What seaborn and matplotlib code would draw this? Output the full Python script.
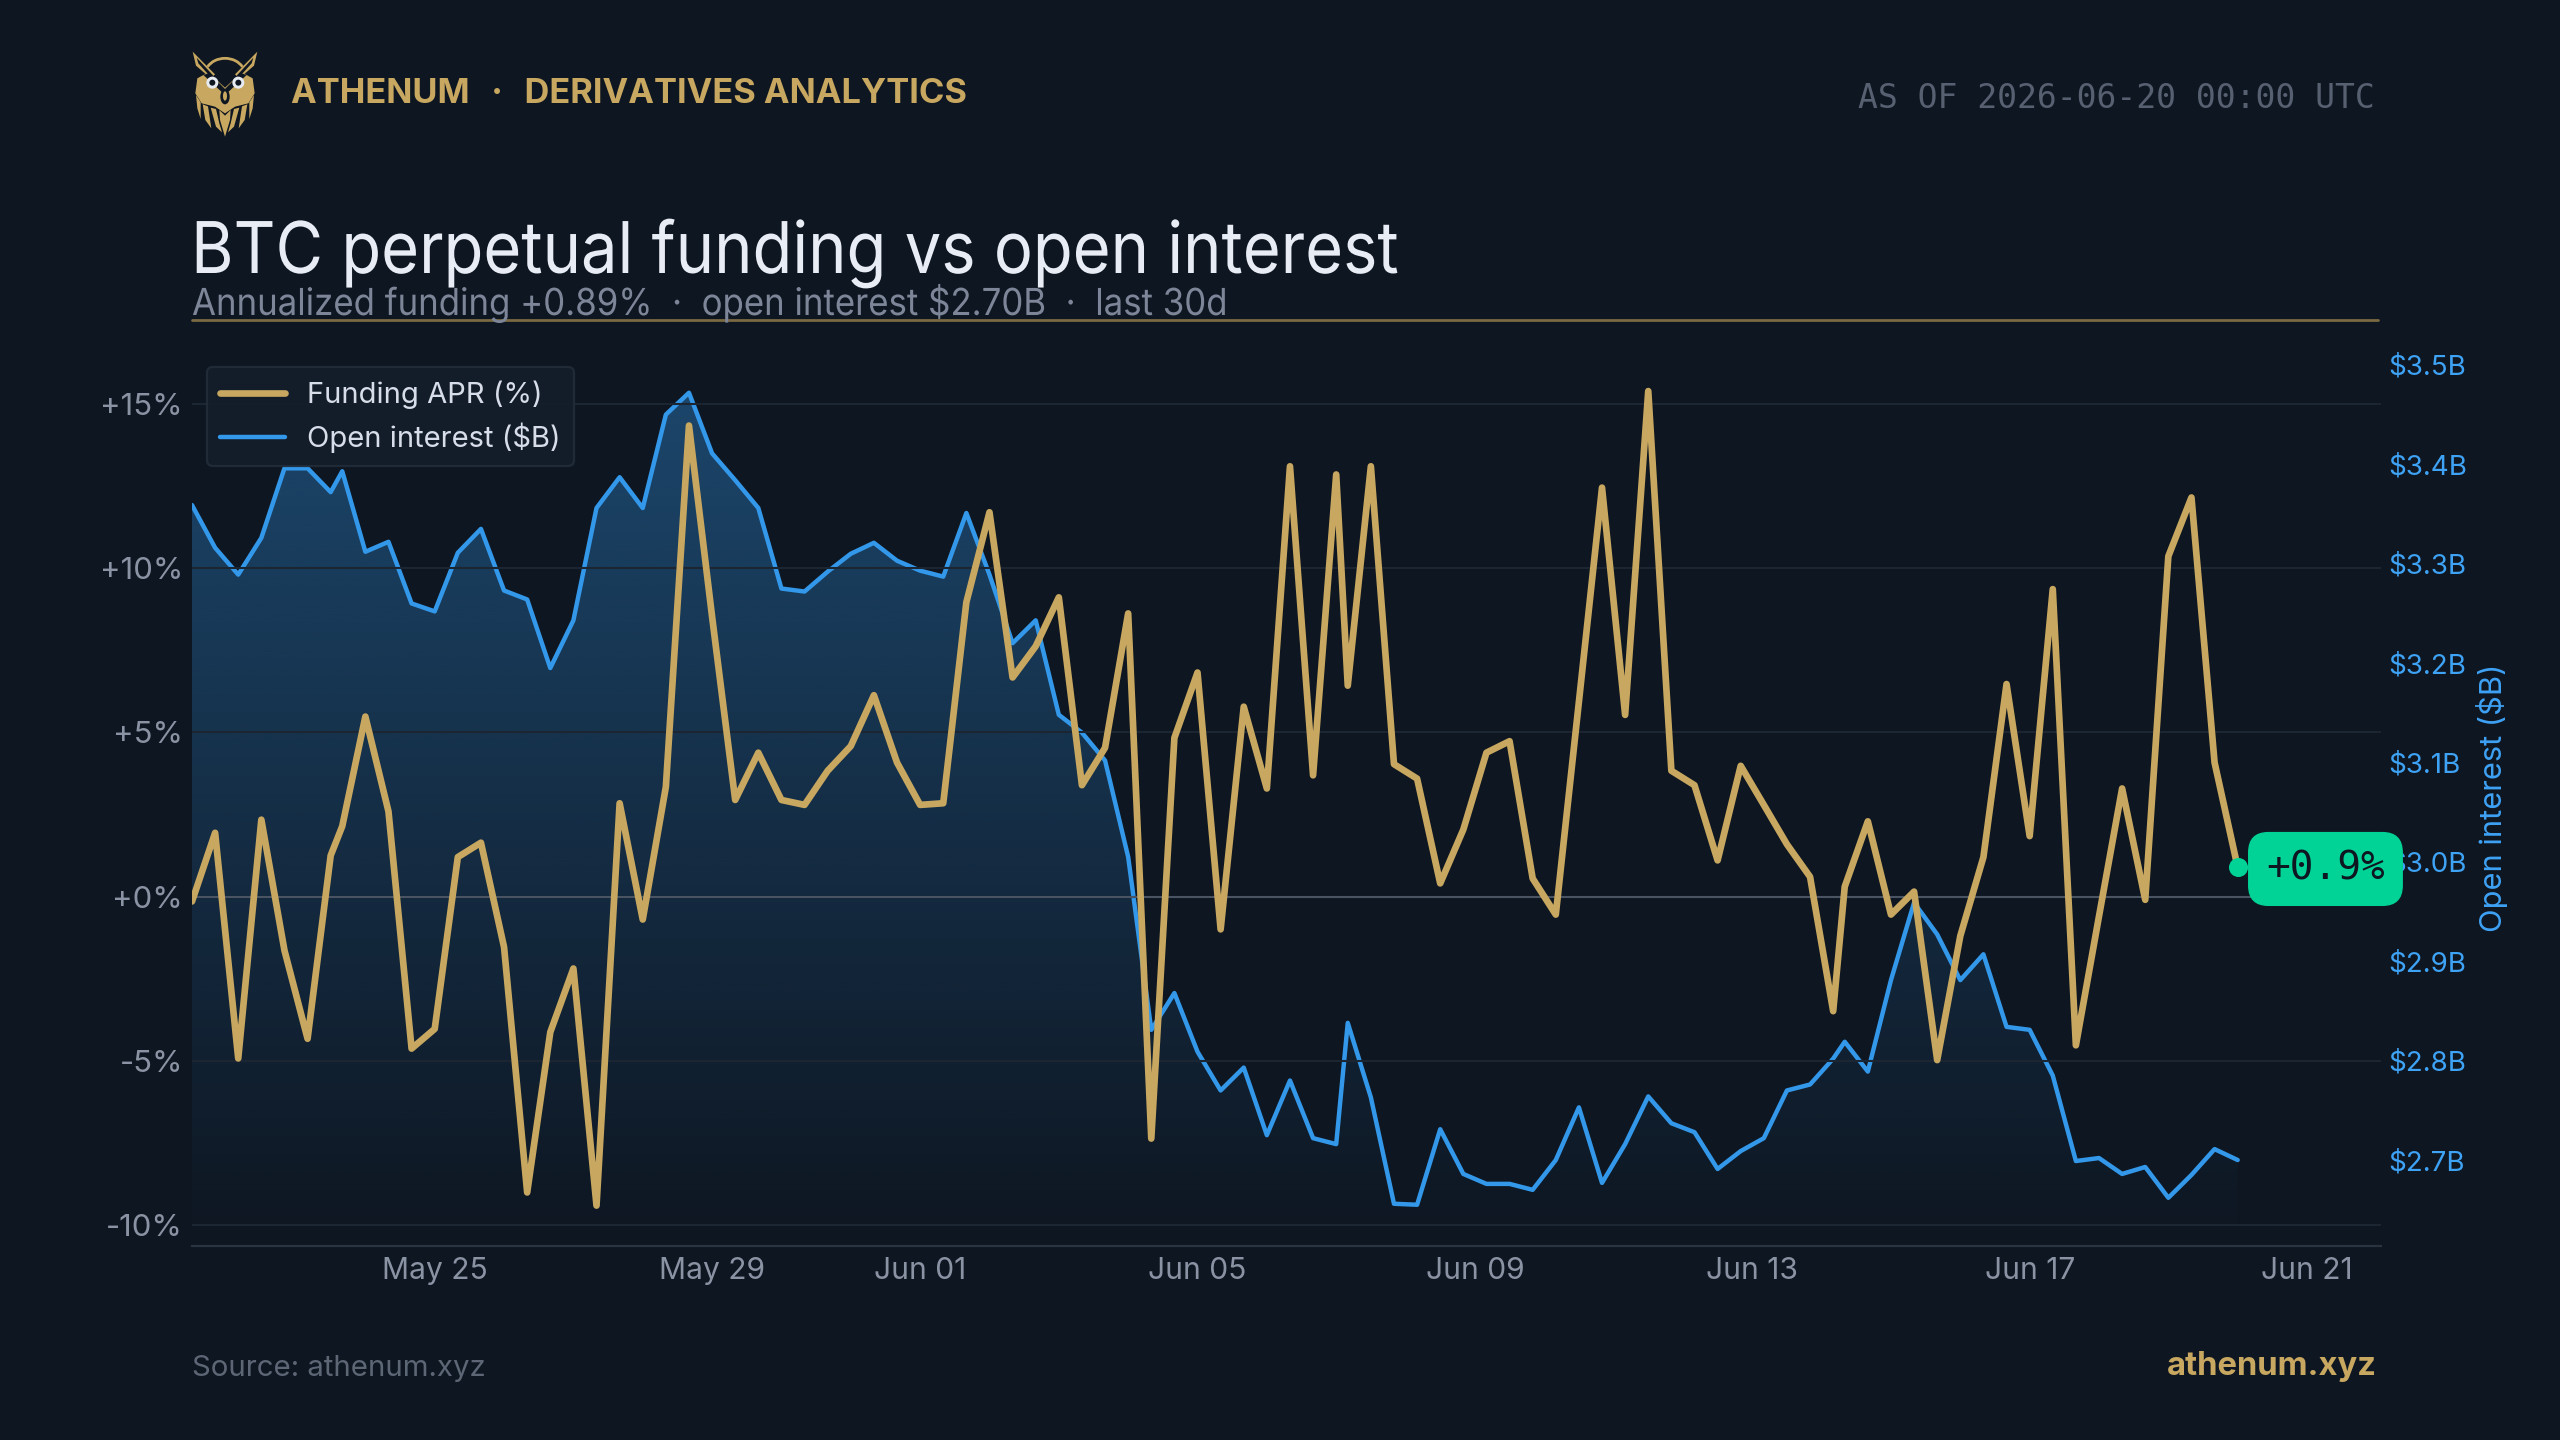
import matplotlib
matplotlib.use("Agg")
import matplotlib.pyplot as plt
import matplotlib.dates as mdates
from matplotlib.lines import Line2D
from matplotlib.patches import Polygon, Circle, Ellipse, Arc
from matplotlib.patheffects import AbstractPathEffect
from matplotlib.ticker import FuncFormatter, FixedLocator
from matplotlib.transforms import Affine2D
import numpy as np
import pandas as pd
import seaborn as sns

# Funding prints follow the exchange's 8-hour schedule; the schedule shifts by 4h twice.
sample_segments = [
    ("2026-05-21 12:00", 7),
    ("2026-05-23 16:00", 1),
    ("2026-05-24 00:00", 43),
    ("2026-06-07 04:00", 22),
    ("2026-06-14 08:00", 18),
]

funding_apr = [
    -0.15, 1.94, -4.93, 2.34, -1.64, -4.33, 1.25, 2.14, 5.48, 2.59,
    -4.63, -4.03, 1.20, 1.64, -1.54, -9.01, -4.13, -2.19, -9.41, 2.84,
    -0.70, 3.34, 14.34, 8.52, 2.94, 4.38, 2.94, 2.79, 3.83, 4.58,
    6.13, 4.08, 2.79, 2.84, 8.96, 11.70, 6.67, 7.62, 9.11, 3.39,
    4.53, 8.62, -7.37, 4.83, 6.82, -1.00, 5.78, 3.29, 13.10, 3.69,
    12.85, 6.42, 13.10, 4.03, 3.59, 0.40, 2.04, 4.38, 4.73, 0.55,
    -0.55, 5.93, 12.45, 5.53, 15.39, 3.83, 3.39, 1.10, 3.98, 2.79,
    1.59, 0.60, -3.49, 0.30, 2.29, -0.55, 0.15, -4.98, -1.20, 1.20,
    6.47, 1.84, 9.36, -4.53, -0.60, 3.29, -0.10, 10.36, 12.15, 4.08,
    0.89,
]

open_interest = [
    3.359, 3.316, 3.289, 3.326, 3.396, 3.396, 3.372, 3.393, 3.312, 3.322,
    3.260, 3.252, 3.311, 3.335, 3.273, 3.264, 3.195, 3.243, 3.356, 3.387,
    3.356, 3.450, 3.472, 3.411, 3.384, 3.356, 3.275, 3.272, 3.292, 3.310,
    3.321, 3.303, 3.293, 3.287, 3.351, 3.289, 3.220, 3.243, 3.148, 3.130,
    3.102, 3.005, 2.831, 2.868, 2.809, 2.770, 2.793, 2.725, 2.780, 2.722,
    2.716, 2.838, 2.763, 2.656, 2.655, 2.731, 2.686, 2.676, 2.676, 2.670,
    2.700, 2.753, 2.677, 2.716, 2.764, 2.737, 2.728, 2.691, 2.709, 2.722,
    2.770, 2.776, 2.802, 2.819, 2.789, 2.881, 2.959, 2.927, 2.881, 2.907,
    2.834, 2.831, 2.785, 2.699, 2.702, 2.686, 2.693, 2.662, 2.685, 2.711,
    2.700,
]

funding_ticks = [-10, -5, 0, 5, 10, 15]
oi_ticks = [2.7, 2.8, 2.9, 3.0, 3.1, 3.2, 3.3, 3.4, 3.5]

BG = "#0e1621"
GOLD = "#c8a860"
BLUE = "#3398ea"
BLUE_TXT = "#3ea2f5"
GRID = "#1c2532"
ZERO = "#4a5362"
MUTED = "#8a93a3"
MINT = "#00d395"
W, H = 2560, 1440


class Squeeze(AbstractPathEffect):
    """Tightens a text run horizontally about its origin."""

    def __init__(self, sx):
        super().__init__()
        self.sx = sx

    def draw_path(self, renderer, gc, tpath, affine, rgbFace=None):
        renderer.draw_path(gc, tpath, Affine2D().scale(self.sx, 1) + affine, rgbFace)


sns.set_theme(style="dark", rc={
    "figure.facecolor": BG, "axes.facecolor": BG, "savefig.facecolor": BG,
    "axes.edgecolor": "#2a3340", "axes.grid": False,
})
plt.rcParams["font.family"] = ["Inter", "DejaVu Sans"]
plt.rcParams["axes.unicode_minus"] = False

timestamps = pd.DatetimeIndex(np.concatenate([
    pd.date_range(start, periods=n, freq="8h").values for start, n in sample_segments
]))
frame = pd.DataFrame({"ts": timestamps, "funding": funding_apr, "oi": open_interest})

fig = plt.figure(figsize=(W / 200, H / 200), dpi=200)
rect = [192 / W, 1 - 1246 / H, (2381 - 192) / W, (1246 - 350) / H]
ax = fig.add_axes(rect)
ax2 = ax.twinx()
# Funding sits above open interest, so its axes is drawn last.
ax.set_zorder(3)
ax.patch.set_visible(False)
ax2.set_zorder(2)

xlim = (mdates.date2num(pd.Timestamp("2026-05-21 12:00")), mdates.date2num(pd.Timestamp("2026-06-22 01:36")))
oi_lim = (2.6135, 3.515)

# Open interest: area with a vertical fade, then the line.
xnum = mdates.date2num(frame["ts"])
area = ax2.fill_between(xnum, frame["oi"], oi_lim[0], facecolor="none", edgecolor="none")
alpha = np.linspace(0.37, 0.0, 256)[:, None]
rgba = np.zeros((256, 1, 4))
rgba[..., :3] = matplotlib.colors.to_rgb(BLUE)
rgba[..., 3] = alpha
img = ax2.imshow(rgba, extent=(xnum[0], xnum[-1], oi_lim[0], frame["oi"].max()),
                 aspect="auto", origin="upper", interpolation="bilinear", zorder=1)
img.set_clip_path(area.get_paths()[0], transform=ax2.transData)
sns.lineplot(data=frame, x="ts", y="oi", ax=ax2, color=BLUE, linewidth=1.6, legend=False, zorder=2)

# Funding line with its latest print marked.
sns.lineplot(data=frame, x="ts", y="funding", ax=ax, color=GOLD, linewidth=2.4, legend=False, zorder=4,
             solid_joinstyle="round", solid_capstyle="round")
sns.scatterplot(data=frame.tail(1), x="ts", y="funding", ax=ax, color=MINT, s=47, linewidth=0, zorder=5, legend=False)

ax.set_xlim(*xlim)
ax2.set_xlim(*xlim)
ax.set_ylim(-10.64, 16.64)
ax2.set_ylim(*oi_lim)

ax.xaxis.set_major_locator(mdates.DayLocator(bymonthday=range(1, 32, 4)))
ax.xaxis.set_major_formatter(mdates.DateFormatter("%b %d"))
ax.yaxis.set_major_locator(FixedLocator(funding_ticks))
ax.yaxis.set_major_formatter(FuncFormatter(lambda v, _: f"{v:+.0f}%"))
ax2.yaxis.set_major_locator(FixedLocator(oi_ticks))
ax2.yaxis.set_major_formatter(FuncFormatter(lambda v, _: f"${v:.1f}B"))
ax.set_xlabel("")
ax.set_ylabel("")
ax2.set_xlabel("")
ax2.set_ylabel("Open interest ($B)", color=BLUE_TXT, fontsize=11.1, labelpad=2.8)

ax.tick_params(axis="x", length=0, pad=4, labelsize=10.8, colors=MUTED)
ax.tick_params(axis="y", length=0, pad=3.2, labelsize=11.2, colors=MUTED)
ax2.tick_params(axis="y", length=0, pad=2.8, labelsize=10, colors=BLUE_TXT)
ax2.tick_params(axis="x", length=0, labelbottom=False)

ax.grid(axis="y", color=GRID, linewidth=0.75, zorder=0)
ax.grid(axis="x", visible=False)
ax.set_axisbelow(True)
ax.axhline(0, color=ZERO, linewidth=0.75, zorder=1)
for a in (ax, ax2):
    for side in ("top", "left", "right"):
        a.spines[side].set_visible(False)
    a.spines["bottom"].set_color("#2a3340")
    a.spines["bottom"].set_linewidth(0.75)

handles = [Line2D([], [], color=GOLD, linewidth=2.4, label="Funding APR (%)"),
           Line2D([], [], color=BLUE, linewidth=1.6, label="Open interest ($B)")]
leg = ax.legend(handles=handles, loc="upper left", bbox_to_anchor=((207 - 192) / (2381 - 192), 1 - (367 - 350) / (1246 - 350)),
                borderaxespad=0, fontsize=10.5, frameon=True, facecolor="#141e2b", edgecolor="#222c39",
                framealpha=0.95, labelcolor="#d8dee9", handlelength=2.2, handletextpad=0.76,
                labelspacing=0.46, borderpad=0.46, fancybox=True)
leg.get_frame().set_linewidth(0.8)
leg.set_zorder(6)

# Latest-value badge beside the end of the funding line.
last_x, last_y = frame["ts"].iloc[-1], frame["funding"].iloc[-1]
ax.annotate(f"{last_y:+.1f}%", xy=(last_x, last_y), xytext=(31.6, -0.6), textcoords="offset points",
            ha="center", va="center", fontsize=14.2, color="#0e1621", family="DejaVu Sans Mono",
            bbox=dict(boxstyle="round,pad=0.44,rounding_size=0.5", facecolor=MINT, edgecolor=MINT, linewidth=0.5),
            annotation_clip=False, zorder=7)

# Header, title block and footer.
def px_text(x, y, s, **kw):
    return fig.text(x / W, 1 - y / H, s, **kw)

px_text(291, 103, "ATHENUM  \u2009·\u2009  DERIVATIVES ANALYTICS", color=GOLD, fontsize=12.4, fontweight="bold", va="baseline")
px_text(2375, 98, "AS OF 2026-06-20 00:00 UTC", color="#566070", fontsize=11.9, family="DejaVu Sans Mono", ha="right", va="center")
px_text(191, 273, "BTC perpetual funding vs open interest", color="#e8ecf4", fontsize=25.7,
        va="baseline", path_effects=[Squeeze(0.911)])
px_text(192, 315, "Annualized funding +0.89%  ·  open interest $2.70B  ·  last 30d", color="#7d8698", fontsize=13.4,
        va="baseline", path_effects=[Squeeze(0.935)])
fig.add_artist(Line2D([192 / W, 2378 / W], [1 - 320 / H] * 2, color="#7a6a42", linewidth=1.0))
px_text(192, 1368, "Source: athenum.xyz", color="#5c6675", fontsize=10.6, va="center")
px_text(2377, 1366, "athenum.xyz", color=GOLD, fontsize=11.8, fontweight="bold", ha="right", va="center")

# Owl emblem, laid out on a small 270x300 canvas.
logo = fig.add_axes([180 / W, 1 - 145 / H, 90 / W, 100 / H])
logo.set_xlim(0, 270)
logo.set_ylim(300, 0)
logo.axis("off")
gold, dark = GOLD, BG
shapes = [
    ([(38, 20), (105, 88), (92, 100), (48, 62)], gold),
    ([(232, 20), (165, 88), (178, 100), (222, 62)], gold),
    ([(52, 100), (85, 82), (135, 128), (185, 82), (218, 100), (224, 145), (205, 175), (165, 185), (135, 205), (105, 185), (65, 175), (46, 145)], gold),
    ([(50, 38), (100, 92), (92, 96), (55, 55)], dark),
    ([(220, 38), (170, 92), (178, 96), (215, 55)], dark),
    ([(70, 90), (88, 84), (135, 132), (182, 84), (200, 90), (135, 150)], dark),
    ([(48, 150), (62, 172), (62, 222), (52, 190)], gold),
    ([(222, 150), (208, 172), (208, 222), (218, 190)], gold),
    ([(68, 178), (84, 184), (94, 250), (76, 225)], gold),
    ([(202, 178), (186, 184), (176, 250), (194, 225)], gold),
    ([(92, 188), (108, 192), (118, 235), (126, 262), (108, 245)], gold),
    ([(178, 188), (162, 192), (152, 235), (144, 262), (162, 245)], gold),
    ([(118, 195), (135, 212), (152, 195), (150, 225), (135, 275), (120, 225)], gold),
]
for pts, col in shapes:
    logo.add_patch(Polygon(pts, closed=True, facecolor=col, edgecolor="none"))
logo.add_patch(Arc((135, 90), 120, 100, theta1=205, theta2=335, color=gold, linewidth=1.0))
for cx in (97, 175):
    logo.add_patch(Circle((cx, 113), 18, facecolor="#e6ebf2", edgecolor="none"))
    logo.add_patch(Circle((cx, 113), 9, facecolor=dark, edgecolor="none"))
logo.add_patch(Ellipse((135, 155), 28, 46, facecolor=dark, edgecolor="none"))
logo.add_patch(Ellipse((135, 153), 12, 28, facecolor=gold, edgecolor="none"))

fig.savefig("out.png", dpi=200, facecolor=BG)
